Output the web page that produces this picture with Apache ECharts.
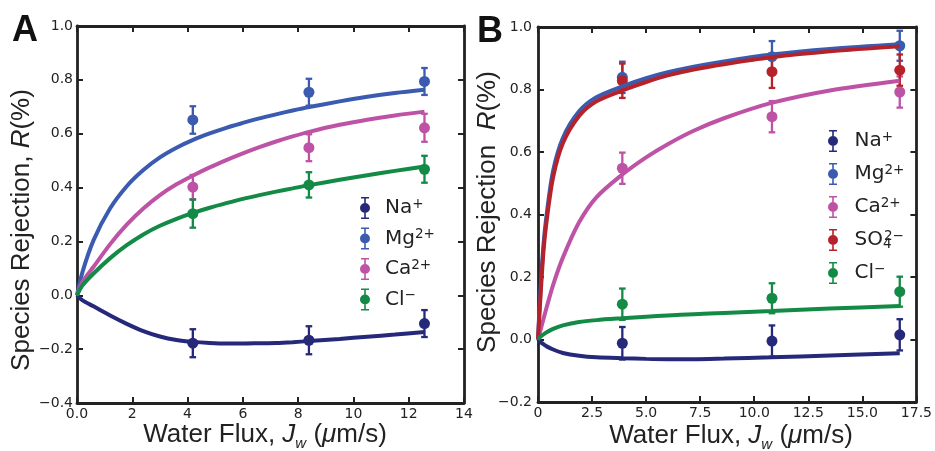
<!DOCTYPE html>
<html>
<head>
<meta charset="utf-8">
<script src="https://cdn.jsdelivr.net/npm/echarts@6/dist/echarts.min.js"></script>
<style>
  html, body { margin: 0; padding: 0; background: #fff; }
  #chart { width: 935px; height: 451px; }
</style>
</head>
<body>
<div id="chart"></div>
<script>
// ---------- Panel A: measured rejection (mean, error) ----------
const fluxA = [4.19, 8.39, 12.57];
const naA = [-0.178, -0.167, -0.105];
const naErrA = [0.052, 0.052, 0.050];
const mgA = [0.651, 0.754, 0.794];
const mgErrA = [0.051, 0.050, 0.050];
const caA = [0.402, 0.548, 0.622];
const caErrA = [0.045, 0.050, 0.052];
const clA = [0.303, 0.410, 0.468];
const clErrA = [0.052, 0.047, 0.050];

// ---------- Panel A: model curves ----------
const fitXA = [0, 0.2, 0.6, 1.2, 1.8, 2.4, 3.0, 3.6, 4.2, 4.8, 5.4, 6.0, 6.6, 7.2, 7.8, 8.4, 9.5, 10.5, 11.5, 12.57];
const naFitA = [0, -0.019, -0.041, -0.075, -0.106, -0.133, -0.153, -0.166, -0.173, -0.177, -0.179, -0.179, -0.178, -0.177, -0.174, -0.170, -0.162, -0.154, -0.146, -0.136];
const mgFitA = [0, 0.087, 0.205, 0.323, 0.405, 0.465, 0.512, 0.548, 0.577, 0.601, 0.622, 0.640, 0.657, 0.672, 0.686, 0.699, 0.720, 0.737, 0.751, 0.763];
const caFitA = [0, 0.050, 0.106, 0.190, 0.262, 0.322, 0.372, 0.412, 0.445, 0.475, 0.502, 0.527, 0.550, 0.571, 0.590, 0.607, 0.633, 0.652, 0.668, 0.682];
const clFitA = [0, 0.037, 0.081, 0.138, 0.186, 0.226, 0.258, 0.284, 0.306, 0.325, 0.342, 0.358, 0.372, 0.385, 0.397, 0.409, 0.429, 0.446, 0.462, 0.478];

// ---------- Panel B: measured rejection (mean, error) ----------
const fluxB = [3.90, 10.82, 16.73];
const naB = [-0.012, -0.005, 0.015];
const naErrB = [0.052, 0.050, 0.050];
const mgB = [0.839, 0.905, 0.940];
const mgErrB = [0.050, 0.050, 0.048];
const caB = [0.548, 0.713, 0.792];
const caErrB = [0.050, 0.050, 0.050];
const so4B = [0.828, 0.857, 0.862];
const so4ErrB = [0.055, 0.052, 0.050];
const clB = [0.113, 0.132, 0.153];
const clErrB = [0.050, 0.048, 0.048];

// ---------- Panel B: model curves ----------
const fitXB = [0, 0.1, 0.25, 0.4, 0.7, 1.15, 1.9, 2.7, 3.9, 5.0, 6.0, 7.2, 8.6, 10.8, 13.5, 16.73];
const naFitB = [0, -0.007, -0.015, -0.022, -0.032, -0.043, -0.052, -0.057, -0.060, -0.062, -0.063, -0.063, -0.061, -0.057, -0.051, -0.044];
const mgFitB = [0, 0.140, 0.300, 0.400, 0.540, 0.645, 0.730, 0.775, 0.810, 0.836, 0.855, 0.873, 0.890, 0.912, 0.930, 0.945];
const caFitB = [0, 0.026, 0.065, 0.103, 0.175, 0.262, 0.375, 0.455, 0.528, 0.583, 0.625, 0.668, 0.708, 0.757, 0.797, 0.828];
const so4FitB = [0, 0.120, 0.280, 0.380, 0.520, 0.628, 0.715, 0.762, 0.797, 0.824, 0.845, 0.864, 0.881, 0.903, 0.922, 0.938];
const clFitB = [0, 0.008, 0.016, 0.023, 0.034, 0.045, 0.056, 0.062, 0.068, 0.073, 0.077, 0.081, 0.085, 0.091, 0.099, 0.107];

// ---------- tick labels ----------
const xTicksA = ['0.0', '2', '4', '6', '8', '10', '12', '14'];
const yTicksA = ['\u22120.4', '\u22120.2', '0.0', '0.2', '0.4', '0.6', '0.8', '1.0'];
const xTicksB = ['0', '2.5', '5.0', '7.5', '10.0', '12.5', '15.0', '17.5'];
const yTicksB = ['\u22120.2', '0.0', '0.2', '0.4', '0.6', '0.8', '1.0'];

const COLORS = {
  'Na+': '#26297a',
  'Mg2+': '#3b5bb0',
  'Ca2+': '#be53a6',
  'SO42-': '#b5222a',
  'Cl-': '#138a45'
};
const RICH_NAMES = {
  'Na+': 'Na{sup|+}',
  'Mg2+': 'Mg{sup|2+}',
  'Ca2+': 'Ca{sup|2+}',
  'SO42-': 'SO{sub|4}{sup|2\u2212}',
  'Cl-': 'Cl{sup|\u2212}'
};

const INK = '#222';
const TICK_FONT = 'DejaVu Sans';
const TITLE_FONT = 'Liberation Sans';

// error-bar glyph for the legend: caps, stem and a dot
const ERR_ICON = 'path://M1,0H9V1.6H5.8V20.4H9V22H1V20.4H4.2V1.6H1Z M0,11A5,5,0,1,1,10,11A5,5,0,1,1,0,11Z';

function errorBars(xs, ys, es, color, axis) {
  return {
    type: 'custom',
    name: '_err',
    xAxisIndex: axis, yAxisIndex: axis,
    silent: true,
    encode: { x: 0, y: [1, 2] },
    data: xs.map((x, i) => [x, ys[i] - es[i], ys[i] + es[i]]),
    renderItem(params, api) {
      const x = api.value(0);
      const lo = api.coord([x, api.value(1)]);
      const hi = api.coord([x, api.value(2)]);
      const cap = 3.3;
      const st = { stroke: color, lineWidth: 2.3 };
      return {
        type: 'group',
        children: [
          { type: 'line', shape: { x1: lo[0], y1: lo[1], x2: hi[0], y2: hi[1] }, style: st },
          { type: 'line', shape: { x1: lo[0] - cap, y1: lo[1], x2: lo[0] + cap, y2: lo[1] }, style: st },
          { type: 'line', shape: { x1: hi[0] - cap, y1: hi[1], x2: hi[0] + cap, y2: hi[1] }, style: st }
        ]
      };
    }
  };
}

function points(name, xs, ys, axis) {
  return {
    type: 'scatter', name,
    xAxisIndex: axis, yAxisIndex: axis,
    symbol: 'circle', symbolSize: 11,
    itemStyle: { color: COLORS[name], opacity: 1 },
    data: xs.map((x, i) => [x, ys[i]])
  };
}

function fit(name, xs, ys, axis) {
  return {
    type: 'line', name: '_fit',
    xAxisIndex: axis, yAxisIndex: axis,
    showSymbol: false, silent: true,
    smooth: 0.3,
    lineStyle: { color: COLORS[name], width: 4 },
    data: xs.map((x, i) => [x, ys[i]])
  };
}

function species(name, xs, ys, es, fx, fy, axis) {
  return [errorBars(xs, ys, es, COLORS[name], axis), points(name, xs, ys, axis), fit(name, fx, fy, axis)];
}

const frame = { show: true, onZero: false, lineStyle: { color: INK, width: 2.8 } };
const ticks = { show: true, inside: true, length: 6, lineStyle: { color: INK, width: 2 } };

function xAxis(grid, max, interval, labels, position, withLabels) {
  return {
    type: 'value', gridIndex: grid, position,
    min: 0, max, interval,
    axisLine: frame, axisTick: ticks, splitLine: { show: false },
    axisLabel: {
      show: withLabels, margin: 4,
      fontFamily: TICK_FONT, fontSize: 14, color: INK,
      showMinLabel: true, showMaxLabel: true,
      formatter: v => labels[Math.round(v / interval)]
    }
  };
}
function yAxis(grid, min, max, interval, labels, position, withLabels, margin) {
  return {
    type: 'value', gridIndex: grid, position,
    min, max, interval,
    axisLine: frame, axisTick: ticks, splitLine: { show: false },
    axisLabel: {
      show: withLabels, margin,
      fontFamily: TICK_FONT, fontSize: 14, color: INK,
      showMinLabel: true, showMaxLabel: true,
      formatter: v => labels[Math.round((v - min) / interval)]
    }
  };
}

const legendRich = {
  sup: { fontFamily: TICK_FONT, fontSize: 13.5, color: INK, verticalAlign: 'top', lineHeight: 12 },
  sub: { fontFamily: TICK_FONT, fontSize: 13.5, color: INK, verticalAlign: 'bottom', lineHeight: 12, width: 1 }
};
function legend(names, left, top, gap, itemWidth) {
  return {
    orient: 'vertical', left, top,
    itemWidth, itemHeight: 22, itemGap: gap,
    icon: ERR_ICON, selectedMode: false,
    data: names,
    formatter: n => RICH_NAMES[n],
    textStyle: { fontFamily: TICK_FONT, fontSize: 20, color: INK, lineHeight: 22, rich: legendRich }
  };
}

const titleRich = {
  i: { fontFamily: TITLE_FONT, fontSize: 26, fontStyle: 'italic', fill: INK },
  sub: { fontFamily: TITLE_FONT, fontSize: 15, fontStyle: 'italic', fill: INK, verticalAlign: 'bottom', lineHeight: 6 }
};
function titleText(text, x, y, rotation) {
  return {
    type: 'text', x, y, rotation: rotation || 0, silent: true,
    style: {
      text, rich: titleRich,
      fontFamily: TITLE_FONT, fontSize: 26, lineHeight: 32, fill: INK,
      align: 'center', verticalAlign: 'middle'
    }
  };
}
function panelLetter(text, x, y) {
  return {
    type: 'text', x, y, silent: true,
    style: { text, fontFamily: TITLE_FONT, fontWeight: 'bold', fontSize: 36, fill: '#111', align: 'left', verticalAlign: 'middle' }
  };
}

const chart = echarts.init(document.getElementById('chart'), null, { renderer: 'canvas' });
chart.setOption({
  animation: false,
  backgroundColor: '#fff',
  grid: [
    { left: 77, top: 26, width: 387, height: 377 },
    { left: 538, top: 27, width: 384, height: 375 }
  ],
  xAxis: [
    xAxis(0, 14, 2, xTicksA, 'bottom', true),
    xAxis(0, 14, 2, xTicksA, 'top', false),
    xAxis(1, 17.5, 2.5, xTicksB, 'bottom', true),
    xAxis(1, 17.5, 2.5, xTicksB, 'top', false)
  ],
  yAxis: [
    yAxis(0, -0.4, 1.0, 0.2, yTicksA, 'left', true, 4),
    yAxis(0, -0.4, 1.0, 0.2, yTicksA, 'right', false, 4),
    yAxis(1, -0.2, 1.0, 0.2, yTicksB, 'left', true, 6),
    yAxis(1, -0.2, 1.0, 0.2, yTicksB, 'right', false, 6)
  ],
  legend: [
    legend(['Na+', 'Mg2+', 'Ca2+', 'Cl-'], 355, 192, 8.5, 30),
    legend(['Na+', 'Mg2+', 'Ca2+', 'SO42-', 'Cl-'], 823, 125, 11, 33)
  ],
  graphic: [
    panelLetter('A', 12, 31),
    panelLetter('B', 477, 32),
    titleText('Species Rejection, {i|R}(%)', 22, 230, Math.PI / 2),
    titleText('Species Rejection  {i|R}(%)', 488, 212, Math.PI / 2),
    titleText('Water Flux, {i|J}{sub|w} ({i|\u03bc}m/s)', 265, 435),
    titleText('Water Flux, {i|J}{sub|w} ({i|\u03bc}m/s)', 731, 436)
  ],
  series: [
    ...species('Na+', fluxA, naA, naErrA, fitXA, naFitA, 0),
    ...species('Mg2+', fluxA, mgA, mgErrA, fitXA, mgFitA, 0),
    ...species('Ca2+', fluxA, caA, caErrA, fitXA, caFitA, 0),
    ...species('Cl-', fluxA, clA, clErrA, fitXA, clFitA, 0),
    ...species('Na+', fluxB, naB, naErrB, fitXB, naFitB, 2),
    ...species('Mg2+', fluxB, mgB, mgErrB, fitXB, mgFitB, 2),
    ...species('Ca2+', fluxB, caB, caErrB, fitXB, caFitB, 2),
    ...species('SO42-', fluxB, so4B, so4ErrB, fitXB, so4FitB, 2),
    ...species('Cl-', fluxB, clB, clErrB, fitXB, clFitB, 2)
  ]
});
</script>
</body>
</html>
